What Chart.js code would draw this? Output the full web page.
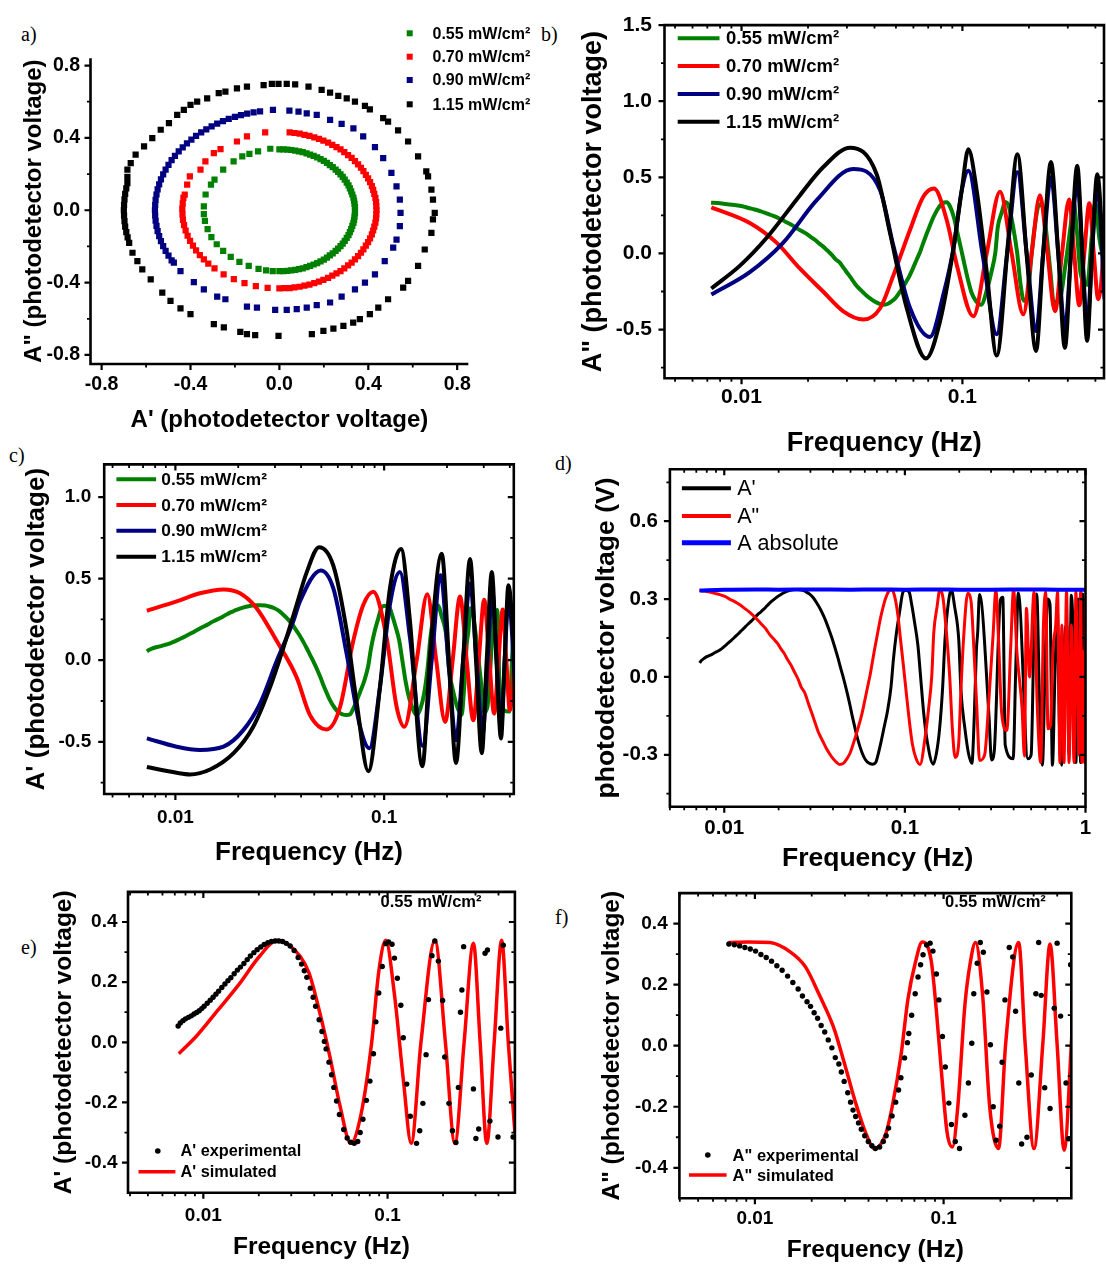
<!DOCTYPE html>
<html>
<head>
<meta charset="utf-8">
<title>Photodetector response vs modulation frequency</title>
<script src="https://cdn.jsdelivr.net/npm/chart.js@4.4.1/dist/chart.umd.min.js"></script>
<style>
  html, body { margin: 0; padding: 0; background: #fff; }
  body { position: relative; width: 1106px; height: 1266px; overflow: hidden; }
  canvas { position: absolute; }
  .tag { position: absolute; font-family: "Liberation Serif", "Times New Roman", serif; font-size: 20px; line-height: 1; color: #000; }
</style>
</head>
<body>
<div class="tag" style="left:21px;top:24px">a)</div>
<div class="tag" style="left:541px;top:24px">b)</div>
<div class="tag" style="left:9px;top:445px">c)</div>
<div class="tag" style="left:555px;top:453px">d)</div>
<div class="tag" style="left:21px;top:937px">e)</div>
<div class="tag" style="left:555px;top:907px">f)</div>

<canvas id="panelA"></canvas>
<canvas id="panelB"></canvas>
<canvas id="panelC"></canvas>
<canvas id="panelD"></canvas>
<canvas id="panelE"></canvas>
<canvas id="panelF"></canvas>

<script>
// ---------------------------------------------------------------------------
// Data
// ---------------------------------------------------------------------------
const intensities = ["0.55 mW/cm²", "0.70 mW/cm²", "0.90 mW/cm²", "1.15 mW/cm²"];

// a) A'' vs A' rings, [A', A'']
const ringGreen = [[0.000,0.337],[0.018,0.337],[0.036,0.335],[0.053,0.333],[0.071,0.330],[0.088,0.326],[0.105,0.321],[0.122,0.315],[0.138,0.308],[0.154,0.300],[0.170,0.292],[0.185,0.283],[0.200,0.273],[0.214,0.262],[0.227,0.250],[0.240,0.238],[0.253,0.225],[0.264,0.212],[0.275,0.198],[0.285,0.184],[0.294,0.169],[0.303,0.153],[0.311,0.137],[0.317,0.121],[0.323,0.104],[0.328,0.087],[0.333,0.070],[0.336,0.053],[0.338,0.035],[0.340,0.018],[0.340,0.000],
  [0.340,-0.018],[0.338,-0.035],[0.336,-0.053],[0.333,-0.070],[0.328,-0.087],[0.323,-0.104],[0.317,-0.121],[0.311,-0.137],[0.303,-0.153],[0.294,-0.169],[0.285,-0.184],[0.275,-0.198],[0.264,-0.212],[0.253,-0.225],[0.240,-0.238],[0.227,-0.250],[0.214,-0.262],[0.200,-0.273],[0.185,-0.283],[0.170,-0.292],[0.154,-0.300],[0.138,-0.308],[0.122,-0.315],[0.105,-0.321],[0.088,-0.326],[0.071,-0.330],[0.053,-0.333],[0.036,-0.335],[0.018,-0.337],[0.000,-0.337],
  [-0.030,-0.336],[-0.060,-0.332],[-0.094,-0.324],[-0.138,-0.308],[-0.180,-0.286],[-0.219,-0.258],[-0.253,-0.225],[-0.282,-0.188],[-0.306,-0.148],[-0.323,-0.104],[-0.335,-0.059],[-0.340,-0.022],
  [-0.340,0.022],[-0.332,0.087],[-0.308,0.142],[-0.292,0.169],[-0.253,0.224],[-0.206,0.270],[-0.167,0.298],[-0.135,0.312],[-0.096,0.325],[-0.041,0.340]];
const ringRed = [[0.046,0.430],[0.068,0.427],[0.091,0.423],[0.113,0.417],[0.135,0.411],[0.157,0.403],[0.178,0.395],[0.198,0.385],[0.219,0.374],[0.238,0.362],[0.257,0.349],[0.275,0.336],[0.292,0.321],[0.309,0.305],[0.325,0.289],[0.340,0.272],[0.354,0.254],[0.367,0.235],[0.378,0.216],[0.389,0.196],[0.399,0.176],[0.408,0.155],[0.416,0.133],[0.422,0.112],[0.427,0.090],[0.432,0.068],[0.435,0.045],[0.436,0.023],[0.437,0.000],
  [0.436,-0.023],[0.435,-0.045],[0.432,-0.068],[0.427,-0.090],[0.422,-0.112],[0.416,-0.133],[0.408,-0.155],[0.399,-0.176],[0.389,-0.196],[0.378,-0.216],[0.367,-0.235],[0.354,-0.254],[0.340,-0.272],[0.325,-0.289],[0.309,-0.305],[0.292,-0.321],[0.275,-0.336],[0.257,-0.349],[0.238,-0.362],[0.219,-0.374],[0.198,-0.385],[0.178,-0.395],[0.157,-0.403],[0.135,-0.411],[0.113,-0.417],[0.091,-0.423],[0.068,-0.427],[0.046,-0.430],[0.023,-0.431],[0.000,-0.432],
  [-0.053,-0.429],[-0.106,-0.419],[-0.157,-0.403],[-0.205,-0.381],[-0.251,-0.354],[-0.292,-0.321],[-0.320,-0.295],[-0.340,-0.272],[-0.358,-0.248],[-0.375,-0.222],[-0.389,-0.196],[-0.402,-0.169],[-0.413,-0.141],[-0.422,-0.112],[-0.429,-0.082],[-0.434,-0.053],[-0.436,-0.023],[-0.437,0.008],[-0.435,0.038],[-0.432,0.068],
  [-0.426,0.086],[-0.415,0.142],[-0.403,0.187],[-0.355,0.224],[-0.333,0.270],[-0.295,0.316],[-0.265,0.338],[-0.191,0.380],[-0.146,0.408],[-0.064,0.430]];
const ringBlue = [[-0.475,-0.290],[-0.485,-0.277],[-0.499,-0.251],[-0.512,-0.225],[-0.523,-0.198],[-0.533,-0.171],[-0.541,-0.143],[-0.548,-0.115],[-0.553,-0.087],[-0.557,-0.058],[-0.559,-0.029],[-0.560,0.000],[-0.559,0.029],[-0.557,0.058],[-0.553,0.087],[-0.548,0.115],[-0.541,0.143],[-0.533,0.171],[-0.523,0.198],[-0.512,0.225],[-0.499,0.251],[-0.485,0.277],[-0.470,0.301],[-0.453,0.325],[-0.435,0.348],[-0.416,0.370],[-0.396,0.391],[-0.375,0.411],[-0.352,0.430],[-0.329,0.447],[-0.305,0.464],[-0.280,0.479],[-0.254,0.493],[-0.228,0.505],[-0.200,0.516],[-0.173,0.526],[-0.145,0.534],[-0.116,0.541],[-0.087,0.546],[-0.029,0.555],
  [0.045,0.551],[0.086,0.545],[0.123,0.536],[0.168,0.527],[0.228,0.500],[0.280,0.478],[0.333,0.453],[0.377,0.408],[0.430,0.349],[0.467,0.288],[0.504,0.206],[0.527,0.132],[0.542,0.059],[0.545,-0.015],[0.542,-0.088],[0.527,-0.162],[0.512,-0.207],[0.474,-0.281],[0.430,-0.354],[0.385,-0.400],[0.340,-0.437],[0.280,-0.477],[0.228,-0.510],[0.168,-0.525],[0.123,-0.538],[0.078,-0.547],[0.033,-0.551],[-0.019,-0.551],
  [-0.101,-0.538],[-0.146,-0.533],[-0.243,-0.492],[-0.280,-0.477],[-0.340,-0.437],[-0.385,-0.397],[-0.445,-0.336]];
const ringBlack = [[-0.071,0.692],[-0.034,0.698],[-0.004,0.698],[0.033,0.698],[0.071,0.696],[0.131,0.683],[0.190,0.665],[0.228,0.650],[0.265,0.632],[0.303,0.619],[0.340,0.601],[0.385,0.577],[0.407,0.558],[0.467,0.509],[0.489,0.490],[0.534,0.441],[0.579,0.380],[0.624,0.298],[0.661,0.215],[0.669,0.187],[0.684,0.114],[0.691,0.059],[0.699,-0.015],[0.691,-0.051],[0.684,-0.125],[0.654,-0.217],[0.624,-0.308],[0.579,-0.391],[0.557,-0.428],[0.489,-0.492],[0.445,-0.538],[0.407,-0.574],[0.362,-0.602],[0.332,-0.621],[0.288,-0.639],[0.243,-0.654],[0.198,-0.667],[0.146,-0.685],
  [-0.004,-0.694],[-0.109,-0.690],[-0.146,-0.685],[-0.176,-0.672],[-0.250,-0.648],[-0.295,-0.629],[-0.400,-0.574],[-0.445,-0.543],[-0.490,-0.501],[-0.527,-0.455],[-0.579,-0.382],[-0.617,-0.327],[-0.639,-0.281],[-0.661,-0.235],[-0.676,-0.180],[-0.683,-0.150],[-0.689,-0.121],[-0.694,-0.091],[-0.697,-0.060],[-0.699,-0.030],[-0.700,0.000],[-0.699,0.030],[-0.697,0.060],[-0.694,0.091],[-0.689,0.121],[-0.684,0.150],[-0.684,0.185],
  [-0.684,0.224],[-0.669,0.261],[-0.647,0.307],[-0.609,0.353],[-0.572,0.399],[-0.534,0.445],[-0.497,0.482],[-0.460,0.527],[-0.430,0.555],[-0.400,0.582],[-0.370,0.601],[-0.325,0.619],[-0.273,0.647],[-0.243,0.656],[-0.191,0.674],[-0.146,0.683]];

// 0.55 mW/cm² experimental A' (used in c, d, e)
const fA1 = [0.0073,0.0075,0.00775,0.008,0.0083,0.0086,0.0089,0.0092,0.0095,0.0098,
  0.0101,0.0105,0.0109,0.0113,0.0117,0.0121,0.0126,0.0131,0.0136,0.0141,
  0.0147,0.0153,0.0159,0.0166,0.0173,0.018,0.0188,0.0196,0.0205,0.0214,
  0.0224,0.0234,0.0245,0.0257,0.0269,0.0282,0.0296,0.0311,0.0327,0.03411,
  0.03532,0.03645,0.03808,0.03945,0.04069,0.04252,0.04403,0.04539,0.04638,0.04809,
  0.04963,0.05109,0.05286,0.05478,0.05778,0.06036,0.0631,0.06592,0.06887,0.07099,
  0.07348,0.07678,0.08022,0.08381,0.0864,0.08955,0.09355,0.09773,0.1012,0.1057,
  0.109,0.113,0.118,0.1217,0.1271,0.1328,0.1436,0.1495,0.1555,0.1618,
  0.1667,0.1742,0.1805,0.1886,0.1989,0.2042,0.2153,0.2249,0.2349,0.2423,
  0.2487,0.2531,0.2588,0.2924,0.3015,0.3123,0.338,0.3484,0.3593,0.3975,
  0.4115,0.4245,0.48,
  0.5,0.52,0.537,0.557,0.577,0.6,0.618,0.636,0.656,0.677,0.698,0.718,0.738,0.76,0.79,0.81,0.835,0.86,0.885,0.91,0.94,0.965,0.985,1.0];
const vA1 = [0.054,0.064,0.072,0.078,0.083,0.088,0.094,0.099,0.105,0.112,
  0.120,0.130,0.140,0.150,0.160,0.170,0.182,0.194,0.205,0.215,
  0.228,0.240,0.250,0.262,0.275,0.287,0.298,0.308,0.317,0.325,
  0.331,0.335,0.337,0.337,0.335,0.329,0.320,0.305,0.282,0.260,
  0.238,0.216,0.180,0.150,0.120,0.075,0.036,0.003,-0.022,-0.066,
  -0.108,-0.150,-0.195,-0.240,-0.290,-0.318,-0.332,-0.336,-0.330,-0.300,
  -0.256,-0.193,-0.129,-0.038,0.068,0.164,0.252,0.328,0.334,0.326,
  0.280,0.213,0.123,0.015,-0.139,-0.246,-0.336,-0.294,-0.203,-0.041,
  0.142,0.288,0.337,0.270,0.139,-0.049,-0.203,-0.294,-0.333,-0.150,
  0.100,0.174,0.318,-0.155,-0.320,-0.288,0.296,0.307,-0.262,-0.315,
  0.047,0.323,-0.315,
  -0.3,0.2,0.32,-0.1,-0.34,0.1,0.30,0.28,-0.34,0.0,0.26,-0.2,-0.34,0.1,0.2,-0.3,0.315,0.1,-0.33,0.3,-0.33,0.32,-0.25,0.1];

// 0.55 mW/cm² experimental A'' (used in b, d, f)
const fA2 = [0.00728,0.00778,0.0083,0.00885,0.00945,0.01008,0.01076,0.01148,0.01225,0.01307,
  0.01394,0.0149,0.01589,0.01695,0.01786,0.01889,0.01972,0.0206,0.02149,0.02244,
  0.02344,0.02447,0.02557,0.02667,0.02786,0.02871,0.02972,0.03105,0.03214,0.03311,
  0.0342,0.0354,0.03664,0.0382,0.0399,0.0417,0.0435,0.0458,0.0479,0.0496,
  0.0511,0.0533,0.0557,0.0577,0.0594,0.0621,0.0643,0.0654,0.0677,0.0707,
  0.0732,0.0755,0.0778,0.0813,0.0848,0.0878,0.0916,0.0944,0.0986,0.1021,
  0.1066,0.11,0.1153,0.1214,0.1297,0.1353,0.141,0.1445,0.1507,0.1564,
  0.1624,0.1696,0.177,0.1832,0.1897,0.1982,0.2042,0.2114,0.2228,0.2325,
  0.2408,0.2503,0.2591,0.2765,0.2913,0.3083,0.319,0.329,0.3434,0.3667,
  0.3858,0.3996,0.417,0.4455,0.459,0.471,
  0.49,0.519,0.54,0.565,0.585,0.602,0.62,0.641,0.66,0.684,0.70,0.722,0.74,0.76,0.785,0.811,0.835,0.864,0.885,0.902,0.92,0.94,0.955,0.968,0.985,1.0];
const vA2 = [0.333,0.331,0.327,0.322,0.317,0.310,0.299,0.289,0.277,0.262,
  0.247,0.228,0.207,0.186,0.163,0.144,0.129,0.108,0.090,0.066,
  0.045,0.019,-0.007,-0.039,-0.060,-0.086,-0.117,-0.154,-0.185,-0.211,
  -0.232,-0.253,-0.274,-0.295,-0.314,-0.328,-0.337,-0.332,-0.314,-0.295,
  -0.270,-0.230,-0.185,-0.145,-0.105,-0.040,0.010,0.040,0.100,0.170,
  0.225,0.265,0.298,0.330,0.336,0.310,0.235,0.150,0.030,-0.070,
  -0.188,-0.258,-0.314,-0.337,-0.228,-0.122,0.008,0.17,0.27,0.338,
  0.306,0.176,0.003,-0.2,-0.31,-0.264,-0.054,0.15,0.322,0.291,
  0.113,-0.122,-0.322,-0.300,-0.096,0.17,0.338,0.165,-0.138,-0.206,
  0.123,0.336,0.097,-0.122,-0.305,0.265,
  0.0,0.328,-0.1,-0.33,0.2,0.328,-0.2,-0.185,0.1,0.2,0.328,-0.33,0.2,-0.33,0.328,-0.33,0.2,-0.33,0.328,0.0,-0.3,0.328,-0.33,0.1,-0.33,0.3];

// b) A'' for 0.70, 0.90, 1.15 mW/cm²
const fR2 = [0.0073,0.0109,0.0144,0.0184,0.0234,0.0289,0.0356,0.0424,0.0487,0.058,0.0665,0.0744,0.0849,0.0945,0.112,0.1288,0.148,0.1671,0.1887,0.2058,0.2245,0.2427,0.2624,0.2824,0.304,0.3206,0.338,0.3562,0.3753,0.3932,0.412,0.45];
const vR2 = [0.303,0.2,0.071,-0.1,-0.25,-0.38,-0.434,-0.36,-0.144,0.157,0.372,0.426,0.22,-0.08,-0.413,0,0.405,0,-0.40,0,0.383,0,-0.38,0,0.355,0,-0.34,0,0.33,0,-0.3,0.3];
const fB2 = [0.0073,0.0109,0.01545,0.0219,0.032,0.0424,0.0487,0.058,0.0713,0.082,0.091,0.0993,0.1064,0.1232,0.143,0.1594,0.1774,0.1955,0.2155,0.232,0.2517,0.2716,0.291,0.31,0.331,0.349,0.367,0.386,0.408,0.44];
const vB2 = [-0.27,-0.123,0.071,0.35,0.555,0.415,0.05,-0.36,-0.548,-0.27,0.03,0.415,0.544,0,-0.53,0,0.533,0,-0.51,0,0.5,0,-0.5,0,0.48,0,-0.48,0,0.45,-0.3];
const fK2 = [0.0073,0.00984,0.013,0.0184,0.0234,0.031,0.0409,0.047,0.056,0.0684,0.0792,0.091,0.0993,0.1064,0.116,0.1289,0.143,0.1614,0.1774,0.1955,0.2155,0.232,0.2517,0.2716,0.291,0.31,0.331,0.349,0.367,0.386,0.408,0.44];
const vK2 = [-0.23,-0.08,0.103,0.383,0.566,0.695,0.52,0.135,-0.36,-0.69,-0.445,0.028,0.415,0.684,0.415,-0.123,-0.67,0.092,0.652,-0.015,-0.64,0,0.6,0,-0.62,0,0.576,0,-0.574,0,0.52,-0.2];

// c) A' for 0.70, 0.90, 1.15 mW/cm²
const fR1 = [0.0073,0.01014,0.0131,0.017,0.0204,0.0245,0.0306,0.0381,0.0442,0.0531,0.0615,0.0711,0.0795,0.0887,0.1028,0.1148,0.125,0.1432,0.161,0.1776,0.196,0.213,0.231,0.2485,0.2675,0.284,0.3016,0.319,0.3365,0.353,0.37,0.385,0.4,0.43];
const vR1 = [0.303,0.36,0.41,0.434,0.41,0.319,0.117,-0.105,-0.338,-0.424,-0.287,0.117,0.34,0.42,0.137,-0.287,-0.408,0,0.404,0,-0.378,0,0.39,0,-0.368,0,0.37,0,-0.327,0,0.31,0,-0.307,0.2];
const fB1 = [0.0073,0.01014,0.0131,0.017,0.0211,0.0254,0.0306,0.0367,0.0395,0.0497,0.0571,0.0662,0.0767,0.085,0.0955,0.1066,0.119,0.133,0.153,0.169,0.1866,0.203,0.221,0.239,0.258,0.277,0.2967,0.313,0.33,0.346,0.363,0.378,0.394,0.43];
const vB1 = [-0.479,-0.53,-0.55,-0.53,-0.43,-0.267,-0.004,0.238,0.36,0.55,0.44,0.036,-0.408,-0.54,-0.166,0.34,0.541,0.137,-0.525,0,0.52,0,-0.49,0,0.47,0,-0.45,0,0.42,0,-0.42,0,0.38,-0.3];
const fK1 = [0.0073,0.01014,0.01175,0.01466,0.019,0.0236,0.0284,0.0329,0.0381,0.0426,0.0488,0.0571,0.0662,0.074,0.084,0.0955,0.1066,0.1205,0.133,0.1525,0.166,0.1888,0.2045,0.221,0.239,0.258,0.2755,0.2937,0.31,0.328,0.345,0.363,0.378,0.394,0.43];
const vK1 = [-0.655,-0.69,-0.70,-0.67,-0.57,-0.408,-0.166,0.076,0.34,0.54,0.693,0.58,0.178,-0.267,-0.68,-0.166,0.44,0.682,0.238,-0.65,0.036,0.652,0,-0.63,0,0.62,0,-0.57,0,0.54,0,-0.48,0,0.46,-0.2];

// d) absolute amplitude
const fAbs = [0.0073,0.01,0.015,0.02,0.03,0.05,0.07,0.1,0.15,0.2,0.3,0.5,0.7,1.0];
const vAbs = [0.333,0.336,0.337,0.336,0.337,0.336,0.337,0.336,0.337,0.336,0.336,0.337,0.336,0.336];

// e) / f) simulated curves, 0.55 mW/cm²
const fSimA1 = [0.00736,0.00916,0.01193,0.0155,0.0202,0.0251,0.0299,0.0373,0.0426,0.0485,0.0553,0.0631,0.072,0.082,0.0895,0.0977,0.109,0.122,0.1343,0.1518,0.1807,0.206,0.2318,0.2603,0.2924,0.318,0.3456,0.379,0.416,0.452,0.491];
const vSimA1 = [-0.038,0.02,0.105,0.19,0.286,0.339,0.318,0.233,0.105,-0.044,-0.214,-0.336,-0.235,0,0.233,0.339,0.158,-0.129,-0.336,0,0.339,0,-0.336,0,0.329,0,-0.336,0,0.339,0,-0.3];
const fSimA2 = [0.00728,0.00925,0.012,0.0155,0.0185,0.022,0.0261,0.0297,0.0339,0.0386,0.043,0.049,0.0534,0.0594,0.0648,0.0707,0.077,0.0859,0.0916,0.0977,0.1044,0.1114,0.1189,0.1297,0.1383,0.1476,0.161,0.1755,0.1955,0.2133,0.25,0.2704,0.3013,0.3357,0.3664,0.3992,0.4355,0.48];
const vSimA2 = [0.338,0.34,0.338,0.306,0.259,0.165,0.061,-0.054,-0.18,-0.285,-0.337,-0.295,-0.2,-0.033,0.155,0.27,0.34,0.28,0.113,-0.096,-0.285,-0.332,-0.2,0.134,0.27,0.338,0.165,-0.2,-0.337,0.008,0.338,0.008,-0.337,0.008,0.333,0.008,-0.342,0.05];

// axis ticks
const ringTicks = [-0.8, -0.4, 0, 0.4, 0.8];
const ringMinor = [-0.6, -0.2, 0.2, 0.6];
const logTicks = [0.01, 0.1, 1];
const logMinor = [0.004,0.005,0.006,0.007,0.008,0.009,0.02,0.03,0.04,0.05,0.06,0.07,0.08,0.09,0.2,0.3,0.4,0.5,0.6,0.7,0.8,0.9];
const bTicks = [-0.5, 0, 0.5, 1.0, 1.5];
const bMinor = [-0.75, -0.25, 0.25, 0.75, 1.25];
const cTicks = [-0.5, 0, 0.5, 1.0];
const cMinor = [-0.75, -0.25, 0.25, 0.75];
const dTicks = [-0.3, 0, 0.3, 0.6];
const dMinor = [-0.45, -0.15, 0.15, 0.45, 0.75];
const efTicks = [-0.4, -0.2, 0, 0.2, 0.4];
const efMinor = [-0.3, -0.1, 0.1, 0.3];

// ---------------------------------------------------------------------------
// Helpers
// ---------------------------------------------------------------------------
const FONT = "'Liberation Sans', Arial, Helvetica, sans-serif";
const GREEN = "#008000", RED = "#ff0000", NAVY = "#000080", BLACK = "#000000", BLUE = "#0000ff";

const zip = (fs, vs) => fs.map((f, i) => ({ x: f, y: vs[i] }));
const pairs = (arr) => arr.map(p => ({ x: p[0], y: p[1] }));

function curve(label, fs, vs, color, width, order) {
  return { label, data: zip(fs, vs), showLine: true, borderColor: color, backgroundColor: color,
    borderWidth: width, pointRadius: 0, cubicInterpolationMode: "monotone", order };
}
function dots(label, fs, vs, order) {
  return { label, data: zip(fs, vs), showLine: false, pointRadius: 2.7, pointBorderWidth: 0,
    pointBackgroundColor: BLACK, borderColor: BLACK, backgroundColor: BLACK, order };
}
function squares(label, arr, color) {
  return { label, data: pairs(arr), showLine: false, pointStyle: "rect", pointRadius: 4.4,
    pointBorderWidth: 0, pointBackgroundColor: color, borderColor: color, backgroundColor: color };
}

function fmtLog(v) { return v >= 1 ? "1" : (v >= 0.1 ? "0.1" : "0.01"); }
function fmtLin(v) { return (Math.abs(v) < 1e-9 ? 0 : v).toFixed(1); }

// axis lines: outward ticks on left/bottom, inward mirror ticks on top/right when boxed
function framePlugin(p) {
  return {
    id: "frame" + p.id,
    afterDraw(chart) {
      const { ctx, chartArea: a } = chart;
      const xs = chart.scales.x, ys = chart.scales.y;
      ctx.save();
      ctx.strokeStyle = "#000";
      const xMarks = (list, len, lw) => {
        ctx.lineWidth = lw;
        ctx.beginPath();
        list.forEach(v => {
          const px = xs.getPixelForValue(v);
          if (px < a.left - 0.5 || px > a.right + 0.5) return;
          ctx.moveTo(px, a.bottom); ctx.lineTo(px, a.bottom + len);
          if (p.frameBox) { ctx.moveTo(px, a.top); ctx.lineTo(px, a.top + len); }
        });
        ctx.stroke();
      };
      const yMarks = (list, len, lw) => {
        ctx.lineWidth = lw;
        ctx.beginPath();
        list.forEach(v => {
          const py = ys.getPixelForValue(v);
          if (py < a.top - 0.5 || py > a.bottom + 0.5) return;
          ctx.moveTo(a.left, py); ctx.lineTo(a.left - len, py);
          if (p.frameBox) { ctx.moveTo(a.right, py); ctx.lineTo(a.right - len, py); }
        });
        ctx.stroke();
      };
      xMarks(p.xMajor, 6, 2.2); xMarks(p.xMinor, 3.5, 1.8);
      yMarks(p.yMajor, 6, 2.2); yMarks(p.yMinor, 3.5, 1.8);
      ctx.lineWidth = 2.6;
      ctx.beginPath();
      if (p.frameBox) {
        ctx.rect(a.left, a.top, a.right - a.left, a.bottom - a.top);
      } else {
        ctx.moveTo(a.left, a.top); ctx.lineTo(a.left, a.bottom); ctx.lineTo(a.right, a.bottom);
      }
      ctx.stroke();
      ctx.restore();
    }
  };
}

// legend rows and free notes, positions in page pixels
function keyPlugin(p, box) {
  return {
    id: "key" + p.id,
    afterDraw(chart) {
      const ctx = chart.ctx;
      const ox = box[0], oy = box[1];
      ctx.save();
      ctx.textBaseline = "middle";
      ctx.textAlign = "left";
      (p.rows || []).forEach(r => {
        const ds = chart.data.datasets[r.ds];
        const y = r.y - oy;
        ctx.fillStyle = ds.backgroundColor;
        ctx.strokeStyle = ds.borderColor;
        if (r.kind === "line") {
          ctx.lineWidth = r.lw || 4;
          ctx.beginPath(); ctx.moveTo(r.x1 - ox, y); ctx.lineTo(r.x2 - ox, y); ctx.stroke();
        } else if (r.kind === "rect") {
          ctx.fillRect(r.x1 - ox - 3, y - 3, 6, 6);
        } else {
          ctx.beginPath(); ctx.arc(r.x1 - ox, y, 2.8, 0, Math.PI * 2); ctx.fill();
        }
        ctx.fillStyle = "#000";
        ctx.font = p.font;
        ctx.fillText(ds.label, r.tx - ox, y + 1);
      });
      (p.notes || []).forEach(n => {
        ctx.fillStyle = "#000";
        ctx.font = n.font;
        ctx.fillText(n.text, n.x - ox, n.y - oy);
      });
      ctx.restore();
    }
  };
}

function buildPanel(p) {
  const [bx, by, bw, bh] = p.box;
  const [L, T, R, B] = p.plot;
  const cv = document.getElementById(p.id);
  cv.width = bw; cv.height = bh;
  cv.style.left = bx + "px"; cv.style.top = by + "px";
  const lh = p.titleSize * 1.2;
  const titleFont = { family: FONT, weight: "bold", size: p.titleSize, lineHeight: 1.2 };
  const tickFont = { family: FONT, weight: "bold", size: p.tickSize };
  return new Chart(cv, {
    type: "scatter",
    data: { datasets: p.datasets },
    options: {
      responsive: false,
      animation: false,
      devicePixelRatio: 1,
      layout: { padding: { left: 0, bottom: 0, top: T - by, right: bx + bw - R } },
      plugins: { legend: { display: false }, tooltip: { enabled: false } },
      scales: {
        x: {
          type: p.xLog ? "logarithmic" : "linear",
          min: p.xRange[0], max: p.xRange[1],
          afterBuildTicks: s => { s.ticks = p.xMajor.filter(v => v >= p.xRange[0] && v <= p.xRange[1]).map(v => ({ value: v })); },
          afterFit: s => { s.height = by + bh - B; },
          grid: { display: false, drawTicks: false },
          border: { display: false },
          ticks: { color: "#000", font: tickFont, padding: p.xPad, autoSkip: false, maxRotation: 0,
                   callback: v => p.xLog ? fmtLog(v) : fmtLin(v) },
          title: { display: true, text: p.xTitle, color: "#000", font: titleFont,
                   padding: { top: 0, bottom: Math.max(0, by + bh - p.xTitleY - lh / 2) } }
        },
        y: {
          type: "linear",
          min: p.yRange[0], max: p.yRange[1],
          afterBuildTicks: s => { s.ticks = p.yMajor.map(v => ({ value: v })); },
          afterFit: s => { s.width = L - bx; },
          grid: { display: false, drawTicks: false },
          border: { display: false },
          ticks: { color: "#000", font: tickFont, padding: p.yPad, autoSkip: false, callback: v => fmtLin(v) },
          title: { display: true, text: p.yTitle, color: "#000", font: titleFont,
                   padding: { top: Math.max(0, p.yTitleX - bx - lh / 2), bottom: 0 } }
        }
      }
    },
    plugins: [framePlugin(p), keyPlugin(p.key, p.box)]
  });
}

// ---------------------------------------------------------------------------
// Panels
// ---------------------------------------------------------------------------
const logAxis = { xLog: true, xMajor: logTicks, xMinor: logMinor, frameBox: true };

buildPanel({
  id: "panelA", box: [0, 0, 540, 440], plot: [90.5, 58.3, 468.3, 364], frameBox: false,
  xLog: false, xRange: [-0.85, 0.85], yRange: [-0.85, 0.84],
  xMajor: ringTicks, xMinor: ringMinor, yMajor: ringTicks, yMinor: ringMinor,
  xTitle: "A' (photodetector voltage)", yTitle: "A\" (photodetector voltage)",
  xTitleY: 420, yTitleX: 34, titleSize: 24, tickSize: 19.5, xPad: 9, yPad: 10.5,
  datasets: [squares(intensities[0], ringGreen, GREEN), squares(intensities[1], ringRed, RED),
             squares(intensities[2], ringBlue, NAVY), squares(intensities[3], ringBlack, BLACK)],
  key: { id: "A", font: "bold 16px " + FONT, rows: [
    { ds: 0, kind: "rect", x1: 409.7, tx: 432.5, y: 33.3 },
    { ds: 1, kind: "rect", x1: 409.7, tx: 432.5, y: 56.7 },
    { ds: 2, kind: "rect", x1: 409.7, tx: 432.5, y: 80 },
    { ds: 3, kind: "rect", x1: 409.7, tx: 432.5, y: 104.3 }] }
});

buildPanel(Object.assign({}, logAxis, {
  id: "panelB", box: [540, 0, 566, 465], plot: [664.5, 18.3, 1104, 378.3],
  xRange: [0.00448, 0.4375], yRange: [-0.82, 1.5], yMajor: bTicks, yMinor: bMinor,
  xTitle: "Frequency (Hz)", yTitle: "A\" (photodetector voltage)",
  xTitleY: 443.5, yTitleX: 594, titleSize: 27, tickSize: 21, xPad: 6, yPad: 12.5,
  datasets: [curve(intensities[0], fA2, vA2, GREEN, 4, 4), curve(intensities[1], fR2, vR2, RED, 4, 3),
             curve(intensities[2], fB2, vB2, NAVY, 4, 2), curve(intensities[3], fK2, vK2, BLACK, 4, 1)],
  key: { id: "B", font: "bold 18.5px " + FONT, rows: [
    { ds: 0, kind: "line", x1: 677.7, x2: 719.5, tx: 726, y: 38.3 },
    { ds: 1, kind: "line", x1: 677.7, x2: 719.5, tx: 726, y: 66 },
    { ds: 2, kind: "line", x1: 677.7, x2: 719.5, tx: 726, y: 94 },
    { ds: 3, kind: "line", x1: 677.7, x2: 719.5, tx: 726, y: 121.7 }] }
}));

buildPanel(Object.assign({}, logAxis, {
  id: "panelC", box: [0, 440, 545, 430], plot: [104.2, 461.7, 513.8, 794],
  xRange: [0.00456, 0.418], yRange: [-0.82, 1.2], yMajor: cTicks, yMinor: cMinor,
  xTitle: "Frequency (Hz)", yTitle: "A' (photodetector voltage)",
  xTitleY: 853, yTitleX: 37, titleSize: 26, tickSize: 19, xPad: 12, yPad: 13,
  datasets: [curve(intensities[0], fA1, vA1, GREEN, 4, 4), curve(intensities[1], fR1, vR1, RED, 4, 3),
             curve(intensities[2], fB1, vB1, NAVY, 4, 2), curve(intensities[3], fK1, vK1, BLACK, 4, 1)],
  key: { id: "C", font: "bold 17.3px " + FONT, rows: [
    { ds: 0, kind: "line", x1: 116.4, x2: 156.1, tx: 161.3, y: 479.3 },
    { ds: 1, kind: "line", x1: 116.4, x2: 156.1, tx: 161.3, y: 505 },
    { ds: 2, kind: "line", x1: 116.4, x2: 156.1, tx: 161.3, y: 530.7 },
    { ds: 3, kind: "line", x1: 116.4, x2: 156.1, tx: 161.3, y: 556.7 }] }
}));

buildPanel(Object.assign({}, logAxis, {
  id: "panelD", box: [555, 445, 551, 430], plot: [669.9, 467, 1085.5, 806.7],
  xRange: [0.005, 1], yRange: [-0.5, 0.8], yMajor: dTicks, yMinor: dMinor,
  xTitle: "Frequency (Hz)", yTitle: "photodetector voltage (V)",
  xTitleY: 859, yTitleX: 607, titleSize: 26.5, tickSize: 20.5, xPad: 9, yPad: 12,
  datasets: [curve("A'", fA1, vA1, BLACK, 3, 3), curve("A\"", fA2, vA2, RED, 3, 2),
             curve("A absolute", fAbs, vAbs, BLUE, 4, 1)],
  key: { id: "D", font: "21.5px " + FONT, rows: [
    { ds: 0, kind: "line", x1: 681.9, x2: 730.9, tx: 737.2, y: 488.3 },
    { ds: 1, kind: "line", x1: 681.9, x2: 730.9, tx: 737.2, y: 516 },
    { ds: 2, kind: "line", x1: 681.9, x2: 730.9, tx: 737.2, y: 542.7, lw: 5 }] }
}));

buildPanel(Object.assign({}, logAxis, {
  id: "panelE", box: [0, 870, 545, 396], plot: [128, 880, 514.9, 1192.7],
  xRange: [0.0039, 0.491], yRange: [-0.5, 0.5], yMajor: efTicks, yMinor: efMinor,
  xTitle: "Frequency (Hz)", yTitle: "A' (photodetector voltage)",
  xTitleY: 1247, yTitleX: 64, titleSize: 24.5, tickSize: 19, xPad: 11.5, yPad: 10.5,
  datasets: [dots("A' experimental", fA1, vA1, 1), curve("A' simulated", fSimA1, vSimA1, RED, 3.5, 2)],
  key: { id: "E", font: "bold 16.3px " + FONT, rows: [
    { ds: 0, kind: "dot", x1: 157.8, tx: 180.6, y: 1151 },
    { ds: 1, kind: "line", x1: 138.5, x2: 175.4, tx: 180.6, y: 1171.7, lw: 3.5 }],
    notes: [{ text: intensities[0], x: 380.6, y: 902, font: "bold 16.5px " + FONT }] }
}));

buildPanel(Object.assign({}, logAxis, {
  id: "panelF", box: [555, 870, 551, 396], plot: [679.4, 880, 1071.3, 1198.3],
  xRange: [0.00398, 0.475], yRange: [-0.5, 0.5], yMajor: efTicks, yMinor: efMinor,
  xTitle: "Frequency (Hz)", yTitle: "A\" (photodetector voltage)",
  xTitleY: 1250, yTitleX: 612, titleSize: 24.5, tickSize: 19, xPad: 9.5, yPad: 11.7,
  datasets: [dots("A\" experimental", fA2, vA2, 1), curve("A\" simulated", fSimA2, vSimA2, RED, 3.5, 2)],
  key: { id: "F", font: "bold 16.5px " + FONT, rows: [
    { ds: 0, kind: "dot", x1: 707.8, tx: 732.6, y: 1155 },
    { ds: 1, kind: "line", x1: 689, x2: 726.6, tx: 732.6, y: 1175, lw: 3.5 }],
    notes: [{ text: intensities[0], x: 945, y: 902.5, font: "bold 16.5px " + FONT }] }
}));
</script>
</body>
</html>
